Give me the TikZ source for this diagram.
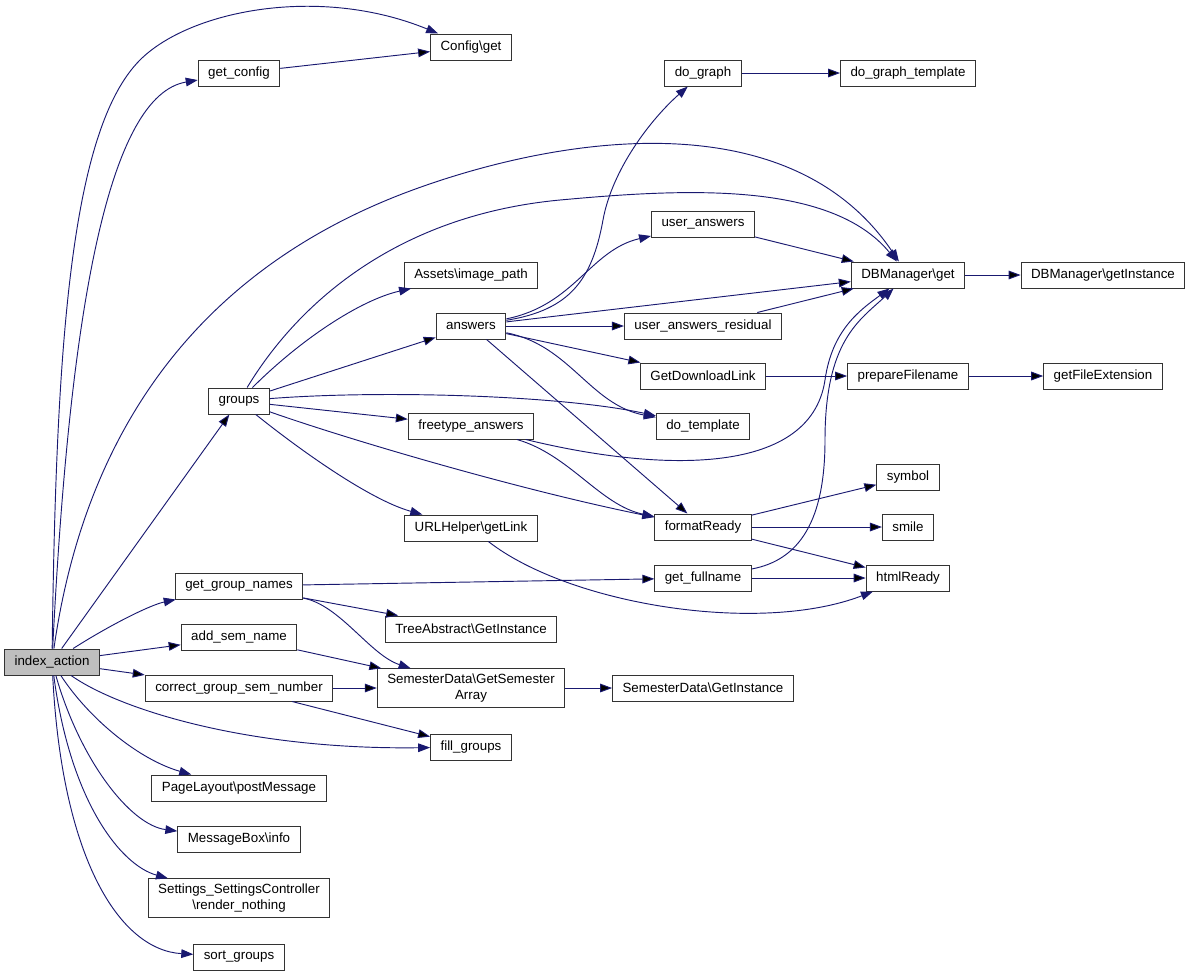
\documentclass[tikz,border=0pt]{standalone}
\usepackage{fontspec}
\setmainfont{Liberation Sans}
\usepackage{tikz}
\usetikzlibrary{arrows.meta}
\definecolor{edgeblue}{RGB}{25,25,112}

\begin{document}
\begin{tikzpicture}[x=0.75pt,y=-0.75pt,
	fn/.style={shape=rectangle,draw=black!80,line width=0.75pt,fill=white,minimum height=19.5pt,inner xsep=7.5pt,inner ysep=2pt,align=center,font=\fontsize{10}{11.5}\selectfont},
	call/.style={draw=edgeblue,line width=0.7pt,-{Triangle[length=9pt,width=6.5pt]}}]
	\useasboundingbox (0,0) rectangle (1191,976);

	\node[fn,fill=black!25] (idx) at (52,662) {index\_action};
	\node[fn] (cfgget) at (471,47) {Config\textbackslash get};
	\node[fn] (getcfg) at (239,73) {get\_config};
	\node[fn] (dograph) at (703,73) {do\_graph};
	\node[fn] (dographtpl) at (908,73) {do\_graph\_template};
	\node[fn] (dbget) at (908,275) {DBManager\textbackslash get};
	\node[fn] (dbinst) at (1103,275) {DBManager\textbackslash getInstance};
	\node[fn] (uans) at (703,224) {user\_answers};
	\node[fn] (assets) at (471,275) {Assets\textbackslash image\_path};
	\node[fn] (answers) at (471,326) {answers};
	\node[fn] (uansres) at (703,326) {user\_answers\_residual};
	\node[fn] (gdl) at (703,376) {GetDownloadLink};
	\node[fn] (prepfn) at (908,376) {prepareFilename};
	\node[fn] (getext) at (1103,376) {getFileExtension};
	\node[fn] (groups) at (239,401) {groups};
	\node[fn] (ftans) at (471,426) {freetype\_answers};
	\node[fn] (dotpl) at (703,426) {do\_template};
	\node[fn] (symbol) at (908,477) {symbol};
	\node[fn] (fmt) at (703,527) {formatReady};
	\node[fn] (smile) at (908,527) {smile};
	\node[fn] (urlh) at (471,528) {URLHelper\textbackslash getLink};
	\node[fn] (fullname) at (703,578) {get\_fullname};
	\node[fn] (html) at (908,578) {htmlReady};
	\node[fn] (ggn) at (239,586) {get\_group\_names};
	\node[fn] (tree) at (471,629) {TreeAbstract\textbackslash GetInstance};
	\node[fn] (addsem) at (239,637) {add\_sem\_name};
	\node[fn,inner ysep=4pt] (semarr) at (471,688) {SemesterData\textbackslash GetSemester\\Array};
	\node[fn] (seminst) at (703,688) {SemesterData\textbackslash GetInstance};
	\node[fn] (cgsn) at (239,688) {correct\_group\_sem\_number};
	\node[fn] (fillg) at (471,747) {fill\_groups};
	\node[fn] (plpost) at (239,788) {PageLayout\textbackslash postMessage};
	\node[fn] (mbinfo) at (239,839) {MessageBox\textbackslash info};
	\node[fn,inner ysep=4pt] (settings) at (239,898) {Settings\_SettingsController\\\textbackslash render\_nothing};
	\node[fn] (sortg) at (239,957) {sort\_groups};

	% index_action
	\draw[call] (idx) .. controls (56,350) and (70,130) .. (140,60) .. controls (190,10) and (320,-15) .. (cfgget);
	\draw[call] (idx) .. controls (70,300) and (110,95) .. (getcfg);
	\draw[call] (idx) .. controls (85,430) and (200,265) .. (421,187) .. controls (562,137) and (790,100) .. (dbget);
	\path[call] (idx) edge (groups);
	\draw[call] (idx) .. controls (110,625) and (150,605) .. (ggn);
	\path[call] (idx) edge (addsem);
	\path[call] (idx) edge (cgsn);
	\draw[call] (idx) .. controls (120,710) and (250,750) .. (fillg);
	\draw[call] (idx) .. controls (90,720) and (140,760) .. (plpost);
	\draw[call] (idx) .. controls (80,760) and (130,825) .. (mbinfo);
	\draw[call] (idx) .. controls (70,800) and (120,865) .. (settings);
	\draw[call] (idx) .. controls (62,860) and (120,950) .. (sortg);

	\path[call] (getcfg) edge (cfgget);

	% groups
	\draw[call] (groups) .. controls (300,300) and (400,215) .. (560,200) .. controls (680,189) and (830,180) .. (dbget);
	\draw[call] (groups) .. controls (300,340) and (360,300) .. (assets);
	\path[call] (groups) edge (answers);
	\draw[call] (groups) .. controls (380,390) and (560,395) .. (dotpl);
	\path[call] (groups) edge (ftans);
	\draw[call] (groups) .. controls (300,450) and (370,500) .. (urlh);
	\draw[call] (groups) .. controls (350,440) and (520,490) .. (fmt);

	% answers
	\draw[call] (answers) .. controls (570,310) and (592,280) .. (603,220) .. controls (612,170) and (650,120) .. (dograph);
	\draw[call] (answers) .. controls (575,305) and (590,250) .. (uans);
	\path[call] (answers) edge (dbget);
	\path[call] (answers) edge (uansres);
	\path[call] (answers) edge (gdl);
	\draw[call] (answers) .. controls (570,345) and (590,405) .. (dotpl);
	\path[call] (answers) edge (fmt);

	\path[call] (uans) edge (dbget);
	\path[call] (uansres) edge (dbget);
	\path[call] (gdl) edge (prepfn);
	\path[call] (prepfn) edge (getext);
	\path[call] (dbget) edge (dbinst);
	\path[call] (dograph) edge (dographtpl);

	\draw[call] (ftans) .. controls (650,470) and (810,480) .. (825,380) .. controls (832,330) and (860,310) .. (dbget);
	\draw[call] (ftans) .. controls (570,455) and (600,505) .. (fmt);

	\path[call] (fmt) edge (symbol);
	\path[call] (fmt) edge (smile);
	\path[call] (fmt) edge (html);

	\draw[call] (fullname) .. controls (800,560) and (825,520) .. (825,440) .. controls (825,340) and (860,320) .. (dbget);
	\path[call] (fullname) edge (html);
	\draw[call] (urlh) .. controls (570,605) and (760,635) .. (html);

	% get_group_names and below
	\path[call] (ggn) edge (fullname);
	\path[call] (ggn) edge (tree);
	\draw[call] (ggn) .. controls (340,605) and (370,655) .. (semarr);
	\path[call] (addsem) edge (semarr);
	\path[call] (cgsn) edge (semarr);
	\path[call] (cgsn) edge (fillg);
	\path[call] (semarr) edge (seminst);

\end{tikzpicture}
\end{document}
